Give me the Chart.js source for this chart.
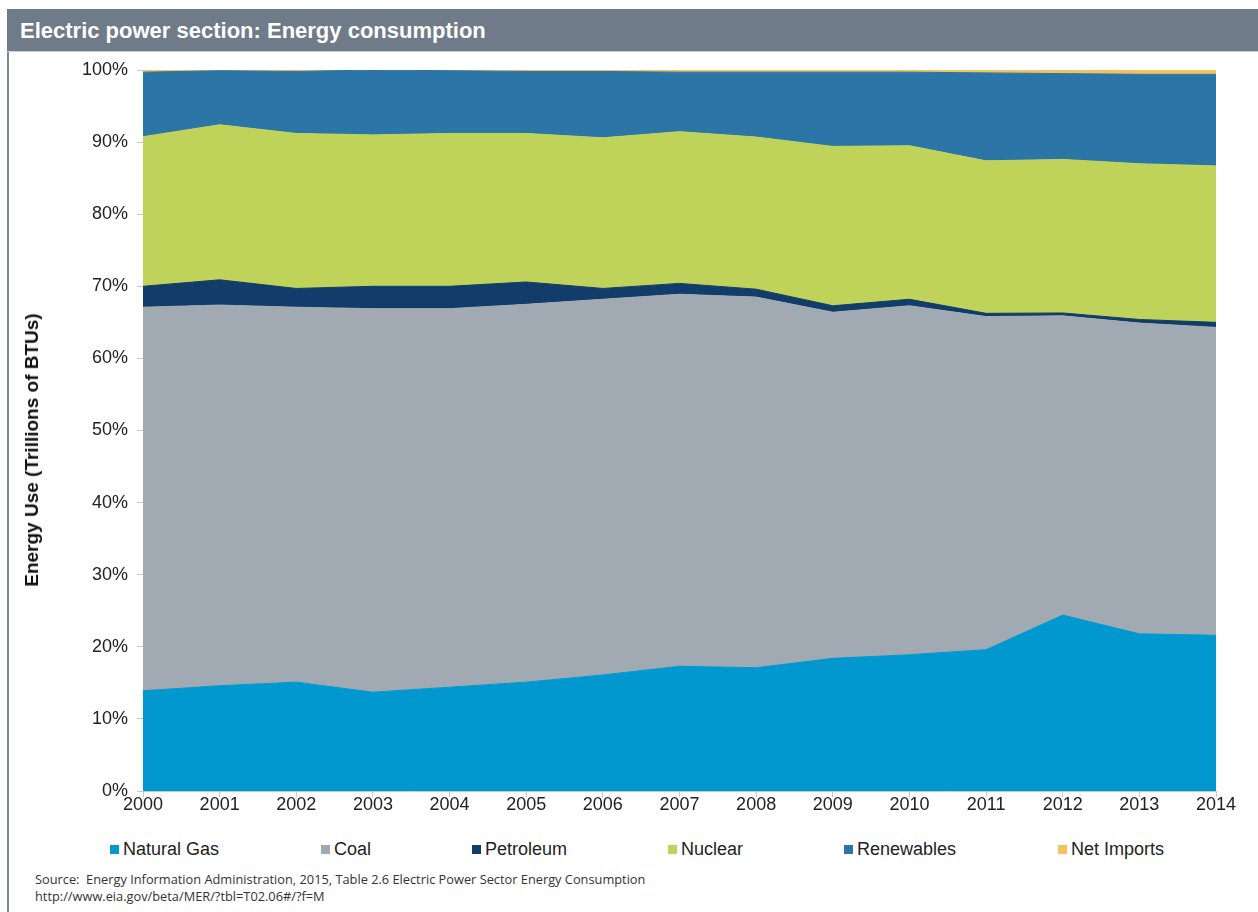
<!DOCTYPE html>
<html>
<head>
<meta charset="utf-8">
<script src="https://cdn.jsdelivr.net/npm/chart.js@4/dist/chart.umd.min.js"></script>
<style>
  html, body { margin: 0; padding: 0; background: #fff; }
  body { width: 1258px; height: 912px; position: relative; overflow: hidden; font-family: "Liberation Sans", Arial, sans-serif; }
  #frame { position: absolute; left: 7px; top: 9px; width: 2px; height: 903px; background: #7b8693; }
  #titlebar { position: absolute; left: 7px; top: 9px; width: 1251px; height: 42px; background: #6f7b88; border-bottom: 1px solid #c9d1da; }
  #title { position: absolute; left: 20px; top: 18px; color: #fff; font-weight: bold; font-size: 22px; white-space: nowrap; }
  #chartWrap { position: absolute; left: 0; top: 0; width: 1258px; height: 830px; }
  #ytitle { position: absolute; left: 32px; top: 450px; transform: translate(-50%, -50%) rotate(-90deg); font-weight: bold; font-size: 19px; color: #111; white-space: nowrap; }
  #legend { position: absolute; top: 838px; left: 0; width: 1258px; height: 24px; }
  .li { position: absolute; top: 0; font-size: 18px; color: #222; white-space: nowrap; line-height: 22px; }
  .sw { display: inline-block; width: 9px; height: 9px; margin-right: 4px; vertical-align: 1px; }
  #source { position: absolute; left: 35px; top: 871px; font-family: "Open Sans", sans-serif; font-size: 12.8px; color: #333; line-height: 17px; white-space: nowrap; }
</style>
</head>
<body>
<div id="frame"></div>
<div id="titlebar"></div>
<div id="title">Electric power section: Energy consumption</div>
<div id="chartWrap"><canvas id="c" width="1258" height="830"></canvas></div>
<div id="ytitle">Energy Use (Trillions of BTUs)</div>
<div id="legend"></div>
<div id="source">Source:&nbsp; Energy Information Administration, 2015, Table 2.6 Electric Power Sector Energy Consumption<br>http://www.eia.gov/beta/MER/?tbl=T02.06#/?f=M</div>
<script>
// ---- Data (percent share of electric power sector energy consumption) ----
const years = ["2000","2001","2002","2003","2004","2005","2006","2007","2008","2009","2010","2011","2012","2013","2014"];
const naturalGas = [13.9,14.6,15.1,13.7,14.4,15.1,16.1,17.3,17.1,18.4,18.9,19.6,24.4,21.8,21.6];
const coal       = [53.2,52.8,52.0,53.2,52.5,52.4,52.1,51.6,51.4,48.0,48.4,46.2,41.5,43.1,42.7];
const petroleum  = [2.9,3.5,2.6,3.1,3.1,3.1,1.5,1.5,1.1,0.9,0.9,0.45,0.4,0.5,0.7];
const nuclear    = [20.75,21.5,21.5,21.0,21.2,20.6,20.9,21.05,21.1,22.1,21.3,21.15,21.3,21.6,21.7];
const renewables = [8.95,7.5,8.6,9.0,8.7,8.6,9.2,8.25,9.0,10.3,10.2,12.2,11.9,12.4,12.7];
const netImports = [0.3,0.1,0.2,0.0,0.1,0.2,0.2,0.3,0.3,0.3,0.3,0.4,0.5,0.6,0.6];
const yTicks = [0,10,20,30,40,50,60,70,80,90,100];
const seriesNames = ["Natural Gas","Coal","Petroleum","Nuclear","Renewables","Net Imports"];
const seriesColors = ["#0098cf","#a1aab2","#123c69","#bfd25a","#2b76a7","#f2c35c"];
const seriesData = [naturalGas, coal, petroleum, nuclear, renewables, netImports];

const datasets = seriesNames.map((n, i) => ({
  label: n,
  data: seriesData[i],
  backgroundColor: seriesColors[i],
  borderColor: seriesColors[i],
  borderWidth: 1,
  pointRadius: 0,
  tension: 0,
  fill: i === 0 ? 'origin' : '-1'
}));

new Chart(document.getElementById('c'), {
  type: 'line',
  data: { labels: years, datasets },
  options: {
    responsive: false,
    animation: false,
    layout: { padding: { top: 70, right: 42, bottom: 0, left: 0 } },
    plugins: { legend: { display: false }, tooltip: { enabled: false } },
    scales: {
      x: {
        offset: false,
        grid: { display: true, drawOnChartArea: false, tickLength: 6, color: '#c8c8c8' },
        border: { color: '#c8c8c8' },
        ticks: { color: '#222', font: { family: 'Liberation Sans', size: 18 }, padding: -3, maxRotation: 0, autoSkip: false },
        afterFit: s => { s.height = 39; }
      },
      y: {
        stacked: true,
        min: 0, max: 100,
        afterBuildTicks: s => { s.ticks = yTicks.map(v => ({ value: v })); },
        grid: { display: true, drawOnChartArea: false, tickLength: 6, color: '#c8c8c8' },
        border: { color: '#c8c8c8' },
        ticks: { color: '#222', font: { family: 'Liberation Sans', size: 18 }, padding: 9, callback: v => v + '%' },
        afterFit: s => { s.width = 143; }
      }
    }
  }
});

// HTML legend built from series arrays
const legendX = [110, 321, 472, 668, 844, 1058];
const lg = document.getElementById('legend');
seriesNames.forEach((n, i) => {
  const d = document.createElement('div');
  d.className = 'li';
  d.style.left = legendX[i] + 'px';
  d.innerHTML = '<span class="sw" style="background:' + seriesColors[i] + '"></span>' + n;
  lg.appendChild(d);
});
</script>
</body>
</html>
